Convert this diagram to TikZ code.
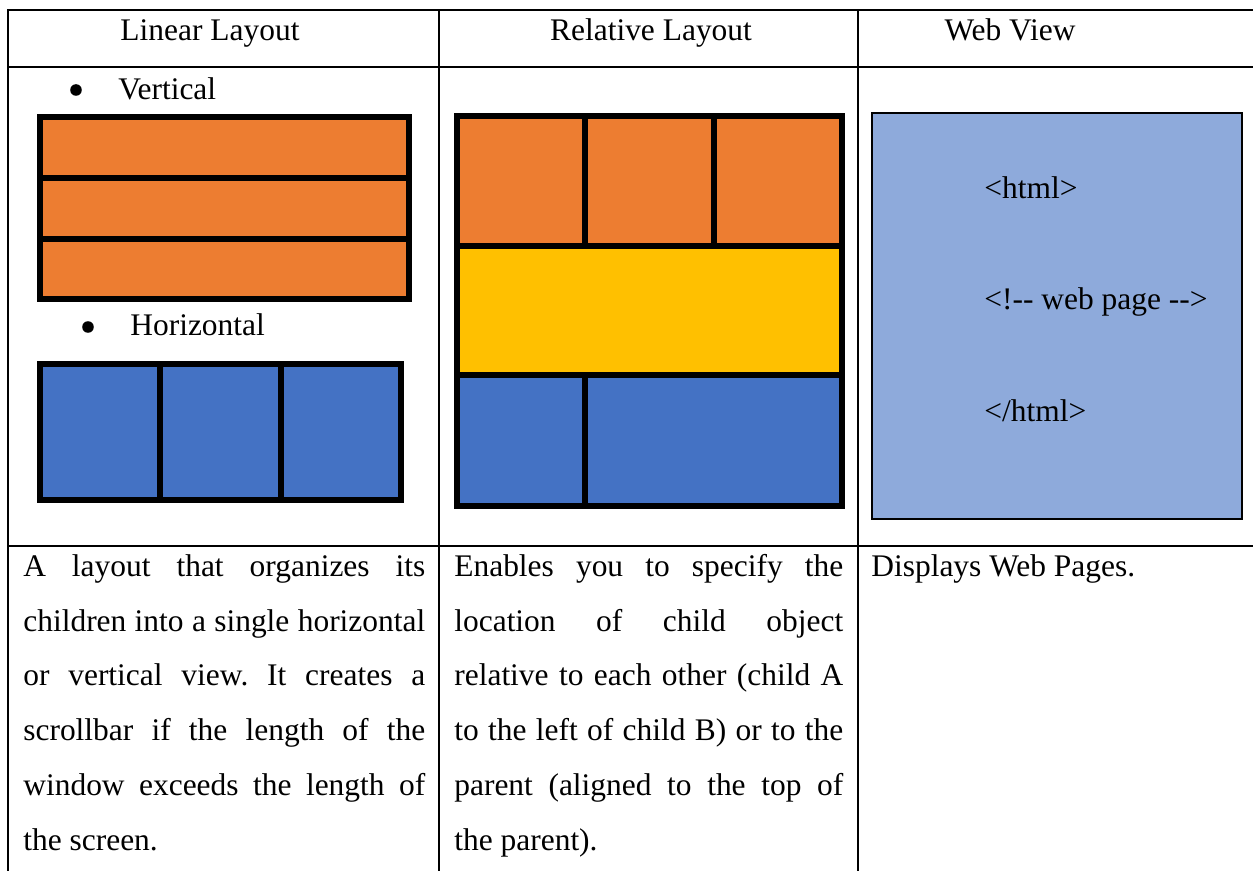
\documentclass[tikz,border=0pt]{standalone}
\usepackage{fontspec}
\setmainfont{Liberation Serif}
\usetikzlibrary{positioning}
\frenchspacing

\definecolor{paneorange}{HTML}{ED7D31}
\definecolor{paneyellow}{HTML}{FFC000}
\definecolor{paneblue}{HTML}{4472C4}
\definecolor{webblue}{HTML}{8EAADB}

\begin{document}
\begin{tikzpicture}[x=0.02cm, y=-0.02cm]

% Define styles
\tikzset{
    rule/.style={line width=1.1pt},
    pane/.style={line width=3.4pt},
    celltext/.style={inner sep=0pt, font=\fontsize{17.9}{31.2}\selectfont},
    bodytext/.style={celltext, anchor=north west, align=justify, text width=#1},
    dot/.style={circle, fill=black, inner sep=0pt, minimum size=6.6pt}
}

% zeige nur die Tabelle
\useasboundingbox (0,0) rectangle (1253,871);

% table rules
\draw[rule] (1253,10) -- (8,10) -- (8,871);
\draw[rule] (8,67) -- (1253,67);
\draw[rule] (8,546) -- (1253,546);
\draw[rule] (439,10) -- (439,871);
\draw[rule] (858,10) -- (858,871);

% header row
\node[celltext, anchor=base] (hLin) at (210,41) {Linear Layout};
\node[celltext, anchor=base] (hRel) at (651,41) {Relative Layout};
\node[celltext, anchor=base] (hWeb) at (1010,41) {Web View};

% Linear layout: vertical
\node[dot] (bVert) at (76,90) {};
\node[celltext, anchor=base west] (tVert) at (118,100) {Vertical};

\filldraw[pane, fill=paneorange] (40,117) rectangle (409,299);
\draw[pane] (40,178) -- (409,178);
\draw[pane] (40,239) -- (409,239);

% Linear layout: horizontal
\node[dot] (bHor) at (88,327) {};
\node[celltext, anchor=base west] (tHor) at (130,336) {Horizontal};

\filldraw[pane, fill=paneblue] (40,364) rectangle (401,500);
\draw[pane] (160,364) -- (160,500);
\draw[pane] (281,364) -- (281,500);

% Relative layout
\fill[paneorange] (457,116) rectangle (842,246);
\fill[paneyellow] (457,246) rectangle (842,375);
\fill[paneblue] (457,375) rectangle (842,506);
\draw[pane] (457,116) rectangle (842,506);
\draw[pane] (457,246) -- (842,246);
\draw[pane] (457,375) -- (842,375);
\draw[pane] (585,116) -- (585,246);
\draw[pane] (714,116) -- (714,246);
\draw[pane] (585,375) -- (585,506);

% Web view
\filldraw[fill=webblue, draw=black, line width=0.8pt] (872,113) rectangle (1242,519);
\node[celltext, anchor=base west] (wOpen) at (984,199) {<html>};
\node[celltext, anchor=base west] (wBody) at (984,310) {<!-{}- web page -{}->};
\node[celltext, anchor=base west] (wClose) at (984,421) {</html>};

% description row
\node[bodytext=8.04cm] (dLin) at (23,540.7) {\rule{0pt}{20pt}A layout that organizes its\linebreak
children into a single horizontal\linebreak
or vertical view. It creates a\linebreak
scrollbar if the length of the\linebreak
window exceeds the length of\linebreak
the screen.};

\node[bodytext=7.78cm] (dRel) at (454,540.7) {\rule{0pt}{20pt}Enables you to specify the\linebreak
location of child object\linebreak
relative to each other (child A\linebreak
to the left of child B) or to the\linebreak
parent (aligned to the top of\linebreak
the parent).};

\node[celltext, anchor=base west] (dWeb) at (871,576) {Displays Web Pages.};

\end{tikzpicture}
\end{document}
